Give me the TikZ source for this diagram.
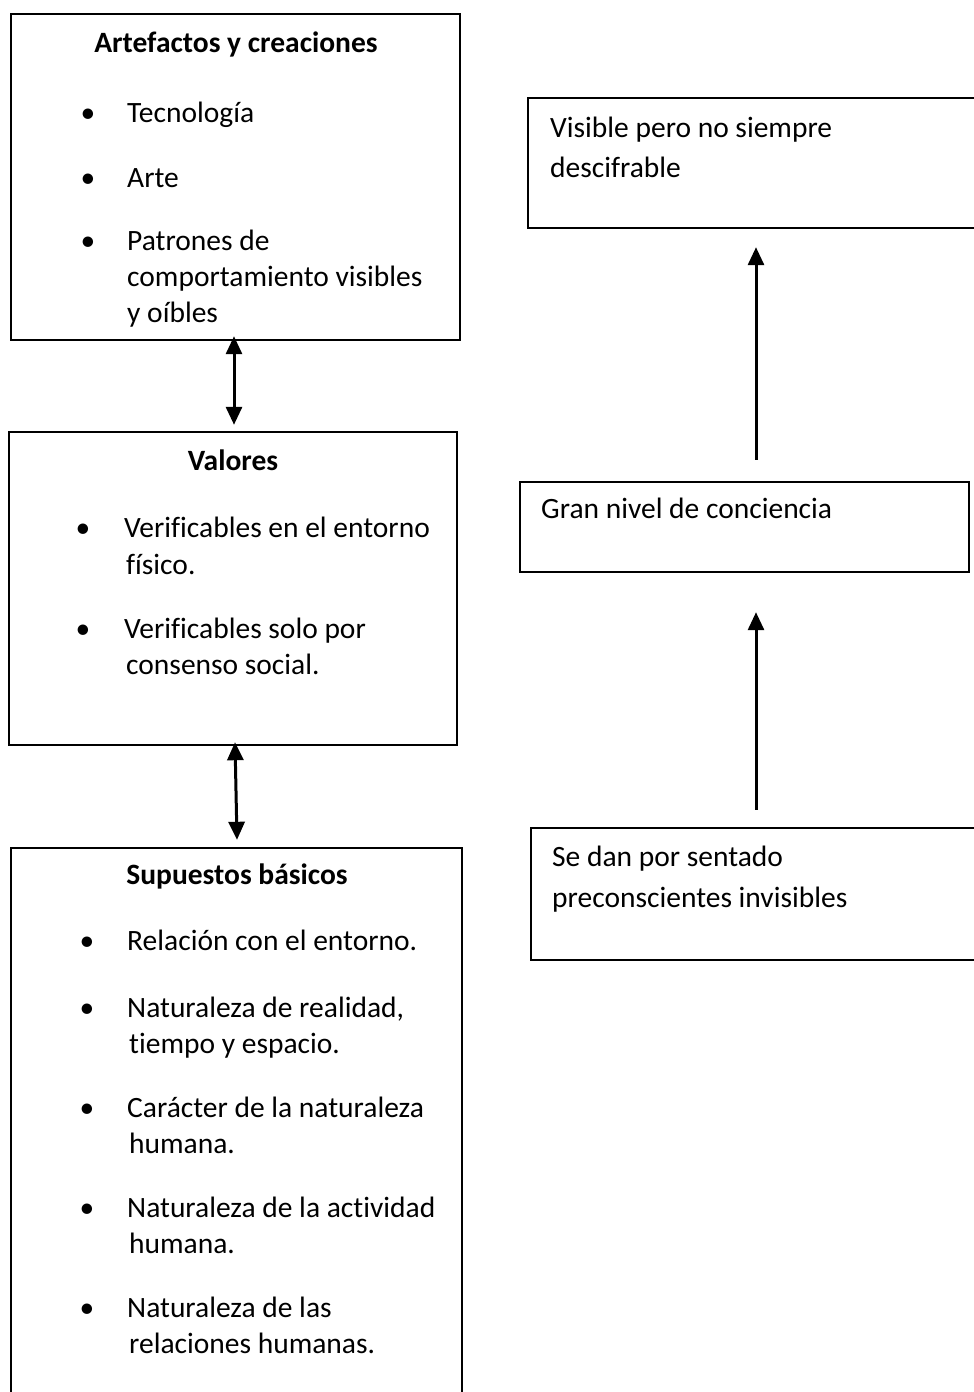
\documentclass[tikz,border=0pt]{standalone}
\usepackage{fontspec}
\setmainfont[Ligatures=NoCommon]{Carlito}
\usetikzlibrary{arrows.meta,calc}
\begin{document}
\begin{tikzpicture}[x=1pt,y=-1pt,
  boxline/.style={draw=black,line width=2.4pt,fill=none},
  txt/.style={anchor=base west,inner sep=0pt,font=\fontsize{29.5}{36}\selectfont},
  ttl/.style={anchor=base,inner sep=0pt,font=\fontsize{29.5}{36}\selectfont\bfseries},
  bul/.style={anchor=base,inner sep=0pt,font=\fontsize{29.5}{36}\selectfont},
  dbl/.style={{Triangle[length=18pt,width=16pt]}-{Triangle[length=18pt,width=16pt]},line width=3pt},
  upar/.style={-{Triangle[length=18pt,width=16pt]},line width=3pt}]
\useasboundingbox (0,0) rectangle (974,1392);
% boxes
\path[boxline] (11,14) rectangle (460,340);
\node[inner sep=0pt,minimum width=449pt,minimum height=326pt] (b1) at (235.5,177) {};
\path[boxline] (9,432) rectangle (457,745);
\node[inner sep=0pt,minimum width=448pt,minimum height=313pt] (b2) at (233,588.5) {};
\path[boxline] (11,848) rectangle (462,1430);
\node[inner sep=0pt,minimum width=451pt,minimum height=582pt] (b3) at (236.5,1139) {};
\path[boxline] (528,98) rectangle (1010,228);
\node[inner sep=0pt,minimum width=482pt,minimum height=130pt] (ra) at (769,163) {};
\path[boxline] (520,482) rectangle (969,572);
\node[inner sep=0pt,minimum width=449pt,minimum height=90pt] (rb) at (744.5,527) {};
\path[boxline] (531,828) rectangle (1010,960);
\node[inner sep=0pt,minimum width=479pt,minimum height=132pt] (rc) at (770.5,894) {};
\coordinate (ax) at (756,0);
% box 1 text
\node[ttl] (t1) at (236,52) {Artefactos y creaciones};
\node[bul] (b1i1) at (88,122) {•};
\node[txt] (l11) at (127,122) {Tecnología};
\node[bul] (b1i2) at (88,187) {•};
\node[txt] (l12) at (127,187) {Arte};
\node[bul] (b1i3) at (88,250) {•};
\node[txt] (l13) at (127,250) {Patrones de};
\node[txt] (l14) at (127,286) {comportamiento visibles};
\node[txt] (l15) at (127,322) {y oíbles};
% box 2 text
\node[ttl] (t2) at (233,470) {Valores};
\node[bul] (b2i1) at (83,537) {•};
\node[txt] (l21) at (124,537) {Verificables en el entorno};
\node[txt] (l22) at (126,574) {físico.};
\node[bul] (b2i2) at (83,638) {•};
\node[txt] (l23) at (124,638) {Verificables solo por};
\node[txt] (l24) at (126,674) {consenso social.};
% box 3 text
\node[ttl] (t3) at (237,884) {Supuestos básicos};
\node[bul] (b3i1) at (87,950) {•};
\node[txt] (l31) at (127,950) {Relación con el entorno.};
\node[bul] (b3i2) at (87,1017) {•};
\node[txt] (l32) at (127,1017) {Naturaleza de realidad,};
\node[txt] (l33) at (129,1053) {tiempo y espacio.};
\node[bul] (b3i3) at (87,1117) {•};
\node[txt] (l34) at (127,1117) {Carácter de la naturaleza};
\node[txt] (l35) at (129,1153) {humana.};
\node[bul] (b3i4) at (87,1217) {•};
\node[txt] (l36) at (127,1217) {Naturaleza de la actividad};
\node[txt] (l37) at (129,1253) {humana.};
\node[bul] (b3i5) at (87,1317) {•};
\node[txt] (l38) at (127,1317) {Naturaleza de las};
\node[txt] (l39) at (129,1353) {relaciones humanas.};
% right texts
\node[txt] (ra1) at (550,137) {Visible pero no siempre};
\node[txt] (ra2) at (550,177) {descifrable};
\node[txt] (rb1) at (541,518) {Gran nivel de conciencia};
\node[txt] (rc1) at (552,866) {Se dan por sentado};
\node[txt] (rc2) at (552,907) {preconscientes invisibles};
% connectors
\draw[dbl] ($(b1.south)+(-1.5,-4)$) -- ($(b2.north)+(1,-7)$);
\draw[dbl] ($(b2.south)+(2,-3)$) -- ($(b3.north)+(0.5,-8)$);
\draw[upar] ($(ax |- rb.north)+(0,-22)$) -- ($(ax |- ra.south)+(0,19)$);
\draw[upar] ($(ax |- rc.north)+(0,-18)$) -- ($(ax |- rb.south)+(0,40)$);
\end{tikzpicture}
\end{document}
